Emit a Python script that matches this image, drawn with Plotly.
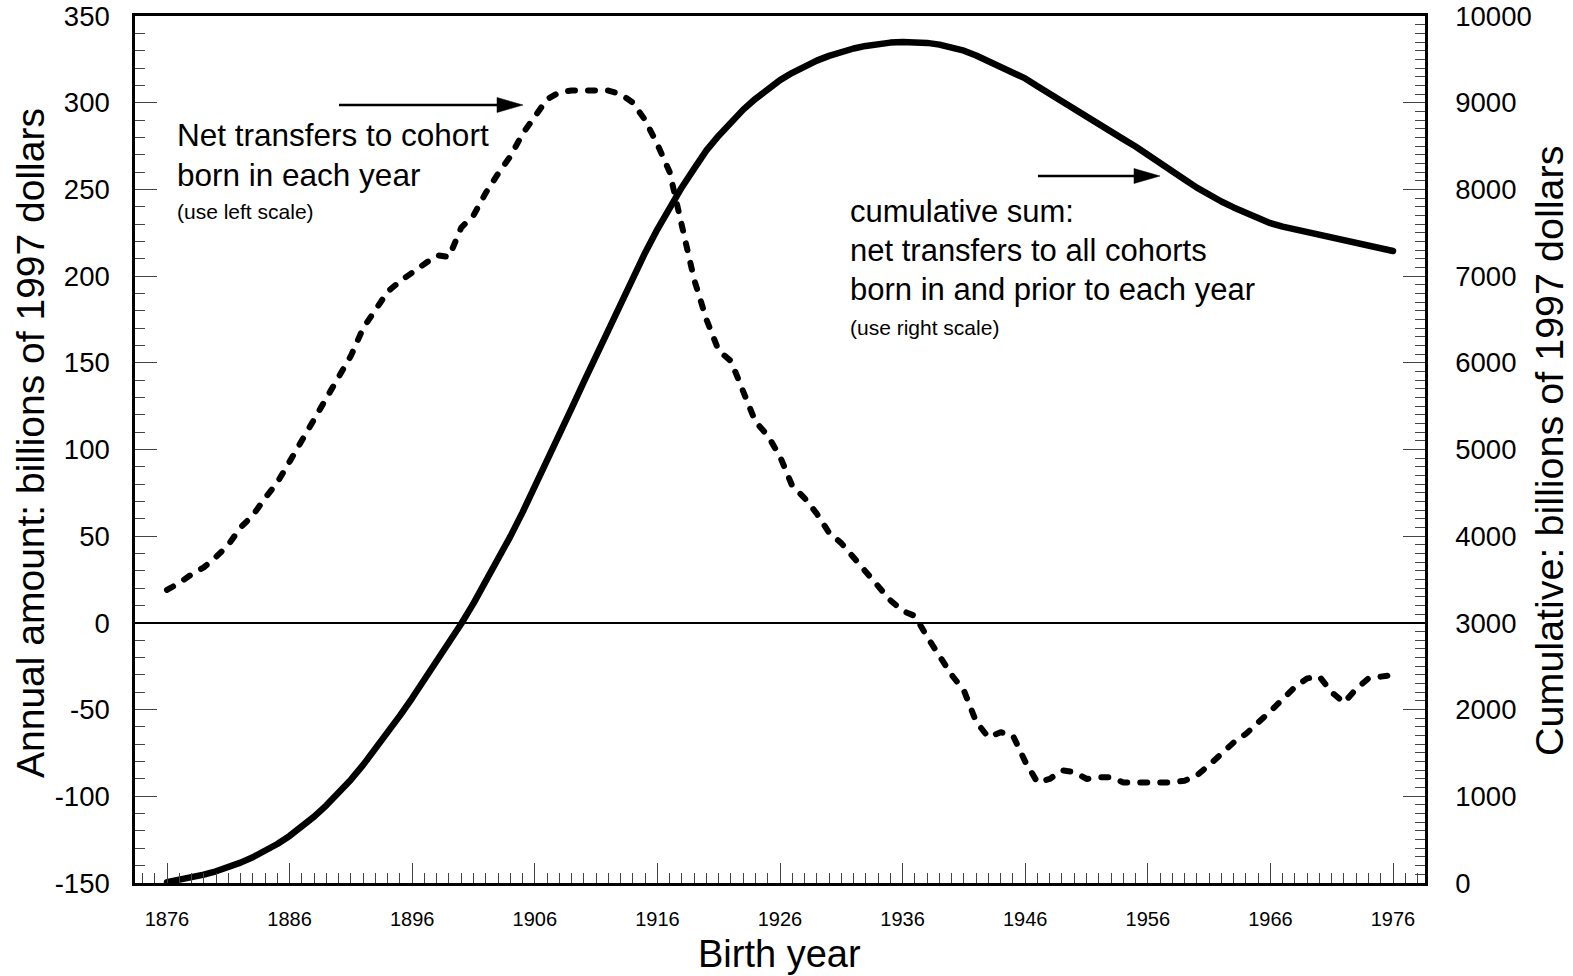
import plotly.graph_objects as go

# ---------------- data ----------------
years = list(range(1876, 1977))

annual = [
    19, 23, 28, 32, 38, 45, 55, 62, 72, 81,          # 1876-1885
    93, 105, 118, 130, 142, 154, 170, 181, 191, 197,  # 1886-1895
    202, 207, 212, 211, 228, 235, 248, 259, 269, 282, # 1896-1905
    292, 302, 306, 307, 307, 307, 307, 305, 300, 290, # 1906-1915
    276, 260, 228, 198, 175, 157, 151, 133, 116, 108, # 1916-1925
    96, 79, 72, 63, 52, 46, 38, 30, 22, 13,           # 1926-1935
    7, 4, -8, -19, -30, -39, -57, -66, -63, -65,      # 1936-1945
    -80, -92, -90, -85, -86, -90, -89, -89, -92, -92, # 1946-1955
    -92, -92, -92, -91, -88, -82, -75, -69, -64, -58, # 1956-1965
    -51, -44, -37, -32, -31, -40, -46, -38, -32, -31, # 1966-1975
    -30,                                              # 1976
]

cumulative = [
    10, 35, 65, 97, 135, 180, 235, 297, 370, 450,            # 1876-1885
    543, 648, 766, 896, 1038, 1192, 1362, 1543, 1734, 1931,  # 1886-1895
    2133, 2340, 2552, 2763, 2990, 3225, 3470, 3728, 3995, 4275,  # 1896-1905
    4565, 4865, 5170, 5475, 5780, 6085, 6390, 6690, 6985, 7270,  # 1906-1915
    7540, 7795, 8025, 8240, 8450, 8620, 8780, 8920, 9045, 9160,  # 1916-1925
    9260, 9345, 9420, 9485, 9540, 9585, 9625, 9655, 9678, 9693,  # 1926-1935
    9700, 9700, 9690, 9670, 9640, 9600, 9545, 9480, 9420, 9355,  # 1936-1945
    9280, 9190, 9100, 9030, 8935, 8845, 8755, 8665, 8580, 8495,  # 1946-1955
    8405, 8305, 8210, 8115, 8020, 7930, 7860, 7792, 7725, 7665,  # 1956-1965
    7610, 7570, 7540, 7515, 7485, 7455, 7415, 7380, 7350, 7320,  # 1966-1975
    7290,                                                     # 1976
]

x_ticks = list(range(1876, 1977, 10))
x_labels = [str(v) for v in x_ticks]
left_ticks = [-150, -100, -50, 0, 50, 100, 150, 200, 250, 300, 350]
left_labels = ["-150", "-100", "-50", "0", "50", "100", "150", "200", "250", "300", "350"]
right_ticks = [0, 1000, 2000, 3000, 4000, 5000, 6000, 7000, 8000, 9000, 10000]
right_labels = [str(v) for v in right_ticks]

# ---------------- layout geometry ----------------
W, H = 1573, 976
PL, PR, PT, PB = 135, 1425, 16, 883   # plot area in pixels
FONT = "Liberation Sans, Arial, sans-serif"


def px(xp):
    return (xp - PL) / (PR - PL)


def py(yp):
    return (PB - yp) / (PB - PT)


fig = go.Figure()
fig.add_trace(go.Scatter(
    x=years, y=annual, mode="lines", yaxis="y",
    line=dict(color="black", width=6, dash="7px,13px"),
    showlegend=False, hoverinfo="skip"))
fig.add_trace(go.Scatter(
    x=years, y=cumulative, mode="lines", yaxis="y2",
    line=dict(color="black", width=6.5),
    showlegend=False, hoverinfo="skip"))

tick_col = "#444444"
axis_common = dict(showgrid=False, zeroline=False, showline=True, automargin=False,
                   linecolor="black", linewidth=2.5,
                   ticks="inside", tickcolor=tick_col, tickwidth=1.3)

fig.update_layout(
    template="none",
    width=W, height=H,
    margin=dict(l=PL, r=W - PR, t=PT, b=H - PB, pad=0, autoexpand=False),
    paper_bgcolor="white", plot_bgcolor="white",
    font=dict(family=FONT, color="black"),
    showlegend=False,
    xaxis=dict(
        range=[1876 - 32 / 12.26, 1976 + 32 / 12.26],
        tickmode="array", tickvals=x_ticks, ticktext=x_labels,
        ticklen=20, mirror=True,
        tickfont=dict(size=20, family=FONT, color="black"),
        ticklabelstandoff=16,
        minor=dict(tickmode="linear", tick0=1876, dtick=1, ticks="inside",
                   ticklen=10, tickcolor=tick_col, tickwidth=1.3, showgrid=False),
        **axis_common),
    yaxis=dict(
        range=[-150, 350],
        tickmode="array", tickvals=left_ticks, ticktext=left_labels,
        ticklen=22, mirror=True,
        tickfont=dict(size=27.5, family=FONT, color="black"),
        ticklabelstandoff=17,
        minor=dict(tickmode="linear", tick0=0, dtick=10, ticks="inside",
                   ticklen=10, tickcolor=tick_col, tickwidth=1.3, showgrid=False),
        **axis_common),
    yaxis2=dict(
        range=[0, 10000], overlaying="y", side="right",
        tickmode="array", tickvals=right_ticks, ticktext=right_labels,
        ticklen=22,
        tickfont=dict(size=27.5, family=FONT, color="black"),
        ticklabelstandoff=22,
        minor=dict(tickmode="linear", tick0=0, dtick=100, ticks="inside",
                   ticklen=10, tickcolor=tick_col, tickwidth=1.3, showgrid=False),
        **axis_common),
)

# zero line of the left scale
fig.add_shape(type="line", xref="paper", yref="y", x0=0, x1=1, y0=0, y1=0,
              line=dict(color="black", width=2))


def arrow(x0, x1, y):
    fig.add_shape(type="line", xref="paper", yref="paper",
                  x0=px(x0), x1=px(x1 - 20), y0=py(y), y1=py(y),
                  line=dict(color="black", width=2.5))
    path = "M {a} {b} L {c} {d} L {a} {e} Z".format(
        a=px(x1 - 26), b=py(y - 7.5), c=px(x1), d=py(y), e=py(y + 7.5))
    fig.add_shape(type="path", xref="paper", yref="paper", path=path,
                  fillcolor="black", line=dict(color="black", width=0.5))


arrow(339, 523, 105)
arrow(1038, 1160, 176)


def label(text, x, y, size, angle=0, xanchor="left"):
    fig.add_annotation(text=text, xref="paper", yref="paper", x=px(x), y=py(y),
                       xanchor=xanchor, yanchor="middle", showarrow=False,
                       textangle=angle, font=dict(family=FONT, size=size, color="black"))


label("Net transfers to cohort", 175, 135, 31.5)
label("born in each year", 175, 175, 31.5)
label("(use left scale)", 175, 211, 21)

label("cumulative sum:", 848, 212, 31)
label("net transfers to all cohorts", 848, 250, 31)
label("born in and prior to each year", 848, 289, 31)
label("(use right scale)", 848, 327, 21)

label("Birth year", 779, 954, 38, xanchor="center")
label("Annual amount: billions of 1997 dollars", 30, 443, 39, angle=-90, xanchor="center")
label("Cumulative: billions of 1997 dollars", 1549, 451, 39.5, angle=-90, xanchor="center")

fig.write_html(
    "out.html",
    config={"displayModeBar": False},
    post_script=(
        "document.body.style.margin='0';document.body.style.padding='0';"
        "document.querySelectorAll('.scatterlayer .js-line').forEach(function(p){"
        "p.style.strokeLinecap='round';p.style.strokeLinejoin='round';});"))
